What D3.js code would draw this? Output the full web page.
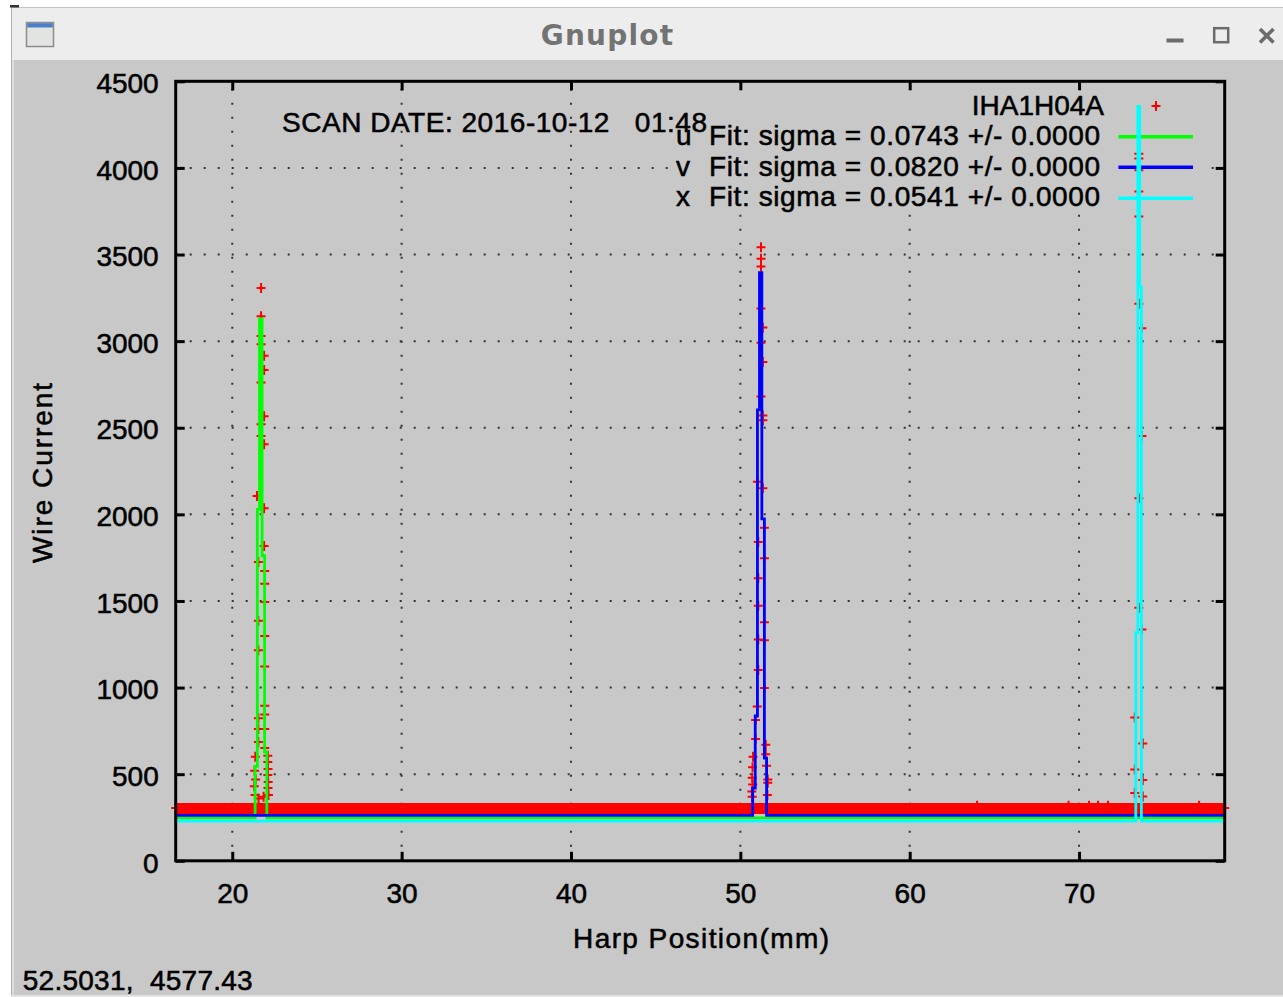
<!DOCTYPE html>
<html><head><meta charset="utf-8">
<script src="https://cdn.jsdelivr.net/npm/d3@7"></script>
<style>
html,body{margin:0;padding:0;background:#fff;}
svg{display:block;}
text{font-family:"Liberation Sans",Arial,sans-serif;fill:#000;}
text.gp{stroke:#000;stroke-width:0.55px;}
</style></head><body>
<svg id="chart" width="1283" height="997"></svg>
<script>
// ---------------- data ----------------
const xDomain = [16.66, 78.6];
const yDomain = [0, 4500];
const xTicks = [20, 30, 40, 50, 60, 70];
const yTicks = [0, 500, 1000, 1500, 2000, 2500, 3000, 3500, 4000, 4500];
const gridYTicks = [500, 1000, 1500, 2000, 2500, 3000, 3500, 4000];

// dense baseline noise of the harp data (envelope of the "+" points)
const baseBandX  = [16.66, 78.6];
const baseBandLo = [270, 270];
const baseBandHi = [333, 333];

// individual data points (red +)
const uPeakX = [21.70,21.70,21.70,21.70,21.88,21.88,21.70,21.88,21.70,21.70,21.88,21.46,21.88,21.88,21.54,21.92,21.92,21.92,21.54,21.92,21.54,21.92,21.92,21.92,21.54,21.54,21.92,21.54,21.92,22.10,22.10,22.11,22.10,22.12,22.11,21.36,21.32,21.38,21.30,21.34,22.14,21.55,21.85];
const uPeakY = [3307,3143,3030,2982,2916,2833,2761,2566,2520,2452,2404,2106,2035,1817,1725,1673,1600,1494,1386,1298,1215,1122,895,844,823,761,761,686,651,607,570,530,495,455,420,600,520,470,430,380,380,360,370];
const vPeakX = [51.22,51.22,51.22,51.22,51.33,51.22,51.33,51.22,51.33,51.33,51.01,51.33,51.42,51.06,51.42,51.06,51.06,51.42,51.06,51.42,51.06,51.42,51.00,50.90,50.90,51.50,51.50,50.75,50.72,50.70,50.73,50.68,50.70,51.55,51.62,51.62,51.60];
const vPeakY = [3542,3476,3431,3188,3078,2990,2880,2680,2570,2543,2188,2150,1923,1841,1746,1631,1472,1377,1277,1273,1101,998,891,813,703,670,615,600,540,480,440,400,370,548,470,450,380];
const xPeakX = [73.53,73.53,73.53,73.53,73.53,73.53,73.71,73.71,73.53,73.53,73.71,73.29,73.76,73.29,73.76,73.29,73.76];
const xPeakY = [4082,4055,3987,3864,3720,3216,3074,2453,2093,1461,1336,827,677,527,466,391,371];
const baseOutX = [16.66, 63.98, 69.38, 70.59, 71.12, 71.71, 77.09, 78.6];
const baseOutY = [305, 318, 318, 318, 318, 318, 318, 305];

// fit curves
const uFitX = [16.66,21.35,21.35,21.48,21.48,21.61,21.61,21.76,21.76,21.91,21.91,22.04,22.04,78.6];
const uFitY = [248,248,545,545,2029,2029,3128,3128,1761,1761,628,628,248,248];
const vFitX = [16.66,50.73,50.73,50.88,50.88,51.01,51.01,51.13,51.13,51.27,51.27,51.42,51.42,51.55,51.55,78.6];
const vFitY = [262,262,420,420,836,836,2603,2603,3395,3395,1974,1974,593,593,262,262];
const xFitX = [16.66,73.35,73.35,73.47,73.47,73.58,73.58,73.68,73.68,78.6];
const xFitY = [229,229,1317,1317,4355,4355,3311,3311,229,229];

// texts
const windowTitle = "Gnuplot";
const dataTitle = "IHA1H04A";
const fitLetters = ["u", "v", "x"];
const fitTexts = ["Fit: sigma = 0.0743 +/- 0.0000", "Fit: sigma = 0.0820 +/- 0.0000", "Fit: sigma = 0.0541 +/- 0.0000"];
const fitColors = ["#00ff00", "#0000ff", "#00ffff"];
const scanLabel = "SCAN DATE: 2016-10-12   01:48";
const xLabel = "Harp Position(mm)";
const yLabel = "Wire Current";
const statusText = "52.5031,  4577.43";

// ---------------- drawing ----------------
const W = 1283, H = 997;
const svg = d3.select("#chart");

// window chrome
svg.append("rect").attr("width", W).attr("height", H).attr("fill", "#ffffff");
svg.append("rect").attr("x", 11).attr("y", 7).attr("width", W - 11).attr("height", H - 7).attr("fill", "#c8c8c8");
svg.append("rect").attr("x", 11).attr("y", 7).attr("width", W - 11).attr("height", 53).attr("fill", "#ededed");
svg.append("line").attr("x1", 11).attr("x2", W).attr("y1", 7.5).attr("y2", 7.5).attr("stroke", "#c2c2c2");
svg.append("rect").attr("x", 10).attr("y", 5).attr("width", 9).attr("height", 2.5).attr("fill", "#333");
svg.append("line").attr("x1", 11.5).attr("x2", 11.5).attr("y1", 8).attr("y2", H).attr("stroke", "#b0b0b0");
svg.append("rect").attr("x", 12).attr("y", 60).attr("width", 2).attr("height", H - 60).attr("fill", "#dcdcdc");
svg.append("rect").attr("x", 11).attr("y", H - 2).attr("width", W - 11).attr("height", 2).attr("fill", "#e4e4e4");
// icon
svg.append("rect").attr("x", 26.5).attr("y", 22.5).attr("width", 27).attr("height", 24)
  .attr("fill", "#e2e4e2").attr("stroke", "#8c8c8c").attr("stroke-width", 1.5);
svg.append("rect").attr("x", 27.2).attr("y", 23.2).attr("width", 25.6).attr("height", 4.3).attr("fill", "#4a80c9");
// title
svg.append("text").attr("x", 607.5).attr("y", 45).attr("text-anchor", "middle")
  .style("font-family", "'DejaVu Sans', sans-serif").style("font-weight", "bold")
  .style("font-size", "28px").style("letter-spacing", "1.2px").style("fill", "#737373").text(windowTitle);
// buttons
svg.append("rect").attr("x", 1166.5).attr("y", 38.5).attr("width", 17).attr("height", 4).attr("fill", "#6b6b6b");
svg.append("rect").attr("x", 1214.2).attr("y", 28.2).attr("width", 14).attr("height", 14)
  .attr("fill", "none").attr("stroke", "#6b6b6b").attr("stroke-width", 2.5);
svg.append("path").attr("d", "M1260,29L1273.5,42.5M1273.5,29L1260,42.5")
  .attr("stroke", "#6b6b6b").attr("stroke-width", 3.6).attr("fill", "none");

// scales
const x = d3.scaleLinear().domain(xDomain).range([175.7, 1224.7]);
const y = d3.scaleLinear().domain(yDomain).range([860.8, 81.3]);
const [px0, px1] = x.range();
const [py0, py1] = y.range();

// key area (grid is not drawn behind the key)
const key = {x0: 668, x1: 1200, y0: 88, y1: 214};
const defs = svg.append("defs");
defs.append("clipPath").attr("id", "gridClip").append("path")
  .attr("clip-rule", "evenodd")
  .attr("d", `M${px0},${py1}H${px1}V${py0}H${px0}Z M${key.x0},${key.y0}H${key.x1}V${key.y1}H${key.x0}Z`);
defs.append("clipPath").attr("id", "plotClip").append("rect")
  .attr("x", px0 - 6).attr("y", py1 - 6).attr("width", px1 - px0 + 12).attr("height", py0 - py1 + 12);

// grid
const grid = svg.append("g").attr("clip-path", "url(#gridClip)")
  .attr("stroke", "#333").attr("stroke-width", 2).attr("stroke-dasharray", "2 12");
grid.selectAll("line.v").data(xTicks).join("line").attr("class", "v")
  .attr("x1", d => x(d)).attr("x2", d => x(d)).attr("y1", py0).attr("y2", py1);
grid.selectAll("line.h").data(gridYTicks).join("line").attr("class", "h")
  .attr("y1", d => y(d)).attr("y2", d => y(d)).attr("x1", px0).attr("x2", px1);

// key samples
const keyG = svg.append("g");
keyG.append("text").attr("class", "gp").attr("x", 1104).attr("y", 115).attr("text-anchor", "end").style("font-size", "28px").text(dataTitle);
keyG.append("path").attr("transform", "translate(1156,106)").attr("d", "M-4.5,0H4.5M0,-5V5")
  .attr("stroke", "#ff0000").attr("stroke-width", 2).attr("fill", "none");
const rowBase = [145, 175.7, 206];
const rowLine = [136.7, 167.3, 198.3];
fitLetters.forEach((L, i) => {
  keyG.append("text").attr("class", "gp").attr("x", 676).attr("y", rowBase[i]).style("font-size", "28px").text(L);
  keyG.append("text").attr("class", "gp").attr("x", 709).attr("y", rowBase[i]).attr("textLength", 391).attr("lengthAdjust", "spacing")
    .style("font-size", "28px").text(fitTexts[i]);
  keyG.append("line").attr("x1", 1118.4).attr("x2", 1193).attr("y1", rowLine[i]).attr("y2", rowLine[i])
    .attr("stroke", fitColors[i]).attr("stroke-width", 3.5);
});

// data
const dataG = svg.append("g").attr("clip-path", "url(#plotClip)");
const band = d3.area().x(d => x(d.x)).y0(d => y(d.lo)).y1(d => y(d.hi));
dataG.append("path").datum(baseBandX.map((v, i) => ({x: v, lo: baseBandLo[i], hi: baseBandHi[i]})))
  .attr("d", band).attr("fill", "#ff0000");
const pts = [];
[[uPeakX, uPeakY], [vPeakX, vPeakY], [xPeakX, xPeakY], [baseOutX, baseOutY]].forEach(([xs, ys]) =>
  xs.forEach((v, i) => pts.push([v, ys[i]])));
dataG.selectAll("path.pt").data(pts).join("path").attr("class", "pt")
  .attr("transform", d => `translate(${x(d[0])},${y(d[1])})`)
  .attr("d", "M-4.5,0H4.5M0,-5V5").attr("stroke", "#ff0000").attr("stroke-width", 2).attr("fill", "none");

// fits
const line = d3.line().x(d => x(d[0])).y(d => y(d[1]));
[[uFitX, uFitY], [vFitX, vFitY], [xFitX, xFitY]].forEach(([xs, ys], i) => {
  dataG.append("path").datum(xs.map((v, j) => [v, ys[j]])).attr("d", line)
    .attr("fill", "none").attr("stroke", fitColors[i]).attr("stroke-width", 2.8).attr("stroke-linejoin", "miter");
});

// axes / ticks
function styleAxis(g) {
  g.select(".domain").remove();
  g.selectAll(".tick line").attr("stroke", "#000").attr("stroke-width", 3);
  g.selectAll(".tick text").attr("class", "gp").style("font-size", "28px")
    .style("font-family", "'Liberation Sans', Arial, sans-serif").attr("fill", "#000");
}
const fmt = d3.format("d");
svg.append("g").attr("transform", `translate(0,${py0})`)
  .call(d3.axisBottom(x).tickValues(xTicks).tickFormat(fmt).tickSizeInner(-9).tickSizeOuter(0).tickPadding(22)).call(styleAxis);
svg.append("g").attr("transform", `translate(0,${py1})`)
  .call(d3.axisTop(x).tickValues(xTicks).tickSizeInner(-9).tickSizeOuter(0).tickFormat("")).call(styleAxis);
const yl = svg.append("g").attr("transform", `translate(${px0},0)`)
  .call(d3.axisLeft(y).tickValues(yTicks).tickFormat(fmt).tickSizeInner(-9).tickSizeOuter(0).tickPadding(17)).call(styleAxis);
yl.selectAll(".tick text").attr("dy", "0.4em");
svg.append("g").attr("transform", `translate(${px1},0)`)
  .call(d3.axisRight(y).tickValues(yTicks).tickSizeInner(-9).tickSizeOuter(0).tickFormat("")).call(styleAxis);

// frame
svg.append("rect").attr("x", px0).attr("y", py1).attr("width", px1 - px0).attr("height", py0 - py1)
  .attr("fill", "none").attr("stroke", "#000").attr("stroke-width", 3);

// labels
svg.append("text").attr("class", "gp").attr("x", 282).attr("y", 131.5).attr("textLength", 425).attr("lengthAdjust", "spacing")
  .style("white-space", "pre").style("font-size", "28px").text(scanLabel);
svg.append("text").attr("class", "gp").attr("x", 573).attr("y", 948).attr("textLength", 256).attr("lengthAdjust", "spacing")
  .style("font-size", "28px").text(xLabel);
svg.append("text").attr("class", "gp").attr("transform", "translate(52,563) rotate(-90)").attr("textLength", 180).attr("lengthAdjust", "spacing")
  .style("font-size", "28px").text(yLabel);
svg.append("text").attr("class", "gp").attr("x", 22.7).attr("y", 990).attr("textLength", 230).attr("lengthAdjust", "spacing")
  .style("white-space", "pre").style("font-size", "28px").text(statusText);
</script>
</body></html>
